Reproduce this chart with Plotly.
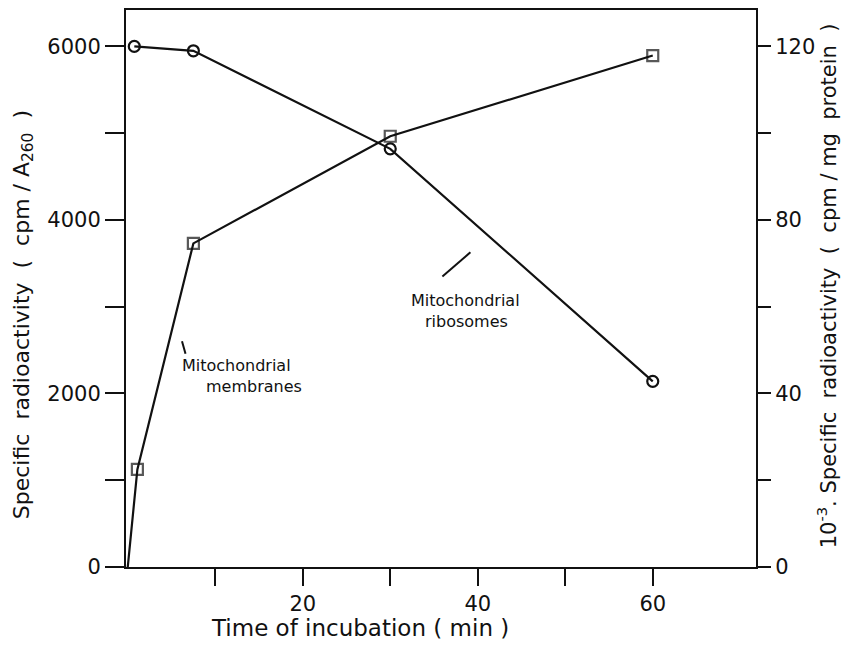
import plotly.graph_objects as go

# Data
ribo_time = [0.75, 7.5, 30, 60]            # min
ribo_values = [6000, 5950, 4820, 2140]     # cpm / A260 (left axis)

memb_time = [0, 1.1, 7.5, 30, 60]          # min
memb_values = [0, 22.5, 74.6, 99.3, 117.9] # 10^-3 cpm / mg protein (right axis)

x_ticks = [10, 20, 30, 40, 50, 60]
x_ticktext = ["", "20", "", "40", "", "60"]
y1_ticks = [0, 1000, 2000, 3000, 4000, 5000, 6000]
y1_ticktext = ["0", "", "2000", "", "4000", "", "6000"]
y2_ticks = [0, 20, 40, 60, 80, 100, 120]
y2_ticktext = ["0", "", "40", "", "80", "", "120"]

FONT = "DejaVu Sans"
BLACK = "#111111"

fig = go.Figure()

fig.add_trace(go.Scatter(
    x=ribo_time, y=ribo_values, mode="lines+markers",
    line=dict(color=BLACK, width=2.2),
    marker=dict(symbol="circle-open", size=11, color=BLACK, line=dict(width=2.2, color=BLACK)),
    showlegend=False, yaxis="y", cliponaxis=False,
))

fig.add_trace(go.Scatter(
    x=memb_time, y=memb_values, mode="lines+markers",
    line=dict(color=BLACK, width=2.2),
    marker=dict(symbol="square-open", size=[0, 11, 11, 11, 11], color=BLACK,
                line=dict(width=2.2, color=BLACK)),
    showlegend=False, yaxis="y2", cliponaxis=False,
))

axis_common = dict(showgrid=False, zeroline=False, ticks="outside",
                   tickcolor=BLACK, tickwidth=2, linecolor=BLACK, linewidth=2,
                   tickfont=dict(family=FONT, size=21, color=BLACK))

# The page body adds an 8 px offset, so the figure is 8 px smaller than the window
fig.update_layout(
    width=844, height=637,
    margin=dict(l=118, r=96, t=0, b=78),
    paper_bgcolor="white", plot_bgcolor="white",
    xaxis=dict(range=[-0.2, 71.8], tickvals=x_ticks, ticktext=x_ticktext,
               ticklen=17, showline=True, mirror=True, **axis_common),
    yaxis=dict(range=[0, 6420], tickvals=y1_ticks, ticktext=y1_ticktext,
               ticklen=19, showline=True, **axis_common),
    yaxis2=dict(range=[0, 128.4], tickvals=y2_ticks, ticktext=y2_ticktext,
                ticklen=13, overlaying="y", side="right", showline=True,
                **axis_common),
)

annots = [
    # axis titles
    dict(text="Time of incubation ( min )", xref="paper", yref="paper",
         x=0.371, y=0, yshift=-61, xanchor="center", yanchor="middle",
         showarrow=False, font=dict(family=FONT, size=23, color=BLACK)),
    dict(text="Specific  radioactivity  (  cpm / A<sub>260</sub>  )", xref="paper", yref="paper",
         x=0, xshift=-103, y=0.452, xanchor="center", yanchor="middle", textangle=-90,
         showarrow=False, font=dict(family=FONT, size=22, color=BLACK)),
    dict(text="10<sup>-3</sup>. Specific  radioactivity  (  cpm / mg  protein  )", xref="paper", yref="paper",
         x=1, xshift=71, y=0.504, xanchor="center", yanchor="middle", textangle=-90,
         showarrow=False, font=dict(family=FONT, size=21, color=BLACK)),
    # series labels
    dict(text="Mitochondrial", xref="x", yref="y", x=5.95, y=2317,
         xanchor="left", yanchor="middle", showarrow=False,
         font=dict(family=FONT, size=16, color=BLACK)),
    dict(text="membranes", xref="x", yref="y", x=8.75, y=2076,
         xanchor="left", yanchor="middle", showarrow=False,
         font=dict(family=FONT, size=16, color=BLACK)),
    dict(text="Mitochondrial", xref="x", yref="y", x=32.1, y=3070,
         xanchor="left", yanchor="middle", showarrow=False,
         font=dict(family=FONT, size=16, color=BLACK)),
    dict(text="ribosomes", xref="x", yref="y", x=33.7, y=2825,
         xanchor="left", yanchor="middle", showarrow=False,
         font=dict(family=FONT, size=16, color=BLACK)),
]
fig.update_layout(annotations=annots)

# pointer lines for the labels
fig.add_shape(type="line", xref="x", yref="y", x0=6.2, y0=2603, x1=6.6, y1=2457,
              line=dict(color=BLACK, width=2))
fig.add_shape(type="line", xref="x", yref="y", x0=35.96, y0=3349, x1=39.16, y1=3627,
              line=dict(color=BLACK, width=2))

fig.write_html("out.html")
